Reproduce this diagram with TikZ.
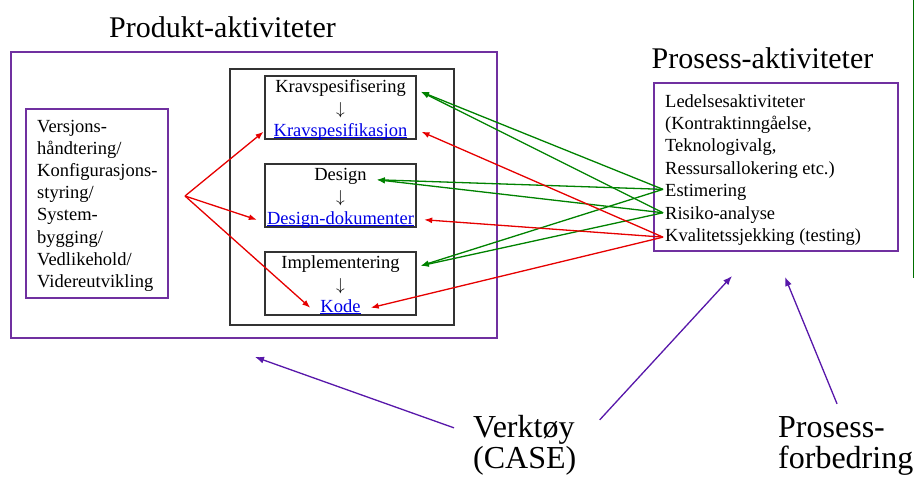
\documentclass[tikz,border=0pt]{standalone}
\usepackage{fontspec}
\setmainfont{Liberation Serif}
\usetikzlibrary{%
  positioning
 ,arrows.meta
}
\definecolor{frmpurple}{RGB}{112,48,160}
\definecolor{arrpurple}{RGB}{88,24,170}
\definecolor{arrred}{RGB}{230,0,0}
\definecolor{arrgreen}{RGB}{0,130,0}
\definecolor{linkblue}{RGB}{0,0,230}
\definecolor{edgegreen}{RGB}{0,110,0}
\newcommand{\lnk}[1]{\textcolor{linkblue}{\underline{\smash{#1}}}}
\tikzstyle{frm}=[draw=frmpurple,line width=1.5pt,inner sep=0pt]
\tikzstyle{bx}=[draw=black!80,line width=1.3pt,inner sep=0pt]
\tikzstyle{ln}=[font=\fontsize{18.5}{22.2}\selectfont,text height=13pt,text depth=4.5pt,inner ysep=0pt,inner xsep=2pt]
\tikzstyle{inb}=[ln,inner xsep=10pt,on grid]
\tikzstyle{ttl}=[font=\fontsize{30}{36}\selectfont,inner sep=0pt,anchor=base]
\tikzstyle{big}=[font=\fontsize{32}{38}\selectfont,inner sep=0pt,anchor=base west]
\tikzstyle{ra}=[-{Latex[length=8pt,width=6pt]},draw=arrred,fill=arrred,line width=1.3pt]
\tikzstyle{ga}=[-{Latex[length=8pt,width=6pt]},draw=arrgreen,fill=arrgreen,line width=1.3pt]
\tikzstyle{pa}=[-{Latex[length=9pt,width=7pt]},draw=arrpurple,fill=arrpurple,line width=1.3pt]

\begin{document}
\begin{tikzpicture}[x=1pt,y=-1pt]
  \useasboundingbox (0,0) rectangle (914,482);
  % frames
  \node[frm,minimum width=486,minimum height=286] (prod) at (254,195) {};
  \node[frm,minimum width=142,minimum height=189] (vers) at (97,203.5) {};
  \node[bx,minimum width=224,minimum height=256] (dev) at (342,197) {};
  \node[bx,minimum width=151,minimum height=63] (kbox) at (340.5,107.5) {};
  \node[bx,minimum width=151,minimum height=63] (dbox) at (340.5,195.5) {};
  \node[bx,minimum width=151,minimum height=63] (ibox) at (340.5,283.5) {};
  \node[frm,minimum width=244,minimum height=168] (prosbox) at (776,167) {};
  \draw[edgegreen,line width=1pt] (913,0) -- (913,278);
  % titles
  \node[ttl] (prodttl) at (222.5,37) {Produkt-aktiviteter};
  \node[ttl] (prosttl) at (762.5,68) {Prosess-aktiviteter};
  % left box
  \node[ln,anchor=west] (v1) at (35,127.75) {Versjons-};
  \node[ln,below=22.2pt of v1.west,anchor=west] (v2) {håndtering/};
  \node[ln,below=22.2pt of v2.west,anchor=west] (v3) {Konfigurasjons-};
  \node[ln,below=22.2pt of v3.west,anchor=west] (v4) {styring/};
  \node[ln,below=22.2pt of v4.west,anchor=west] (v5) {System-};
  \node[ln,below=22.2pt of v5.west,anchor=west] (v6) {bygging/};
  \node[ln,below=22.2pt of v6.west,anchor=west] (v7) {Vedlikehold/};
  \node[ln,below=22.2pt of v7.west,anchor=west] (v8) {Videreutvikling};
  % phases
  \node[inb] (krav) at (340.5,87.75) {Kravspesifisering};
  \node[inb,below=22pt of krav] (kravdn) {$\downarrow$};
  \node[inb,below=22pt of kravdn] (kspec) {\lnk{Kravspesifikasjon}};
  \node[inb] (design) at (340.5,175.75) {Design};
  \node[inb,below=22pt of design] (designdn) {$\downarrow$};
  \node[inb,below=22pt of designdn] (ddok) {\lnk{Design-dokumenter}};
  \node[inb] (impl) at (340.5,263.75) {Implementering};
  \node[inb,below=22pt of impl] (impldn) {$\downarrow$};
  \node[inb,below=22pt of impldn] (kode) {\lnk{Kode}};
  % process activities
  \node[ln,anchor=west] (led) at (663,102.75) {Ledelsesaktiviteter};
  \node[ln,below=22.4pt of led.west,anchor=west] (kon) {(Kontraktinngåelse,};
  \node[ln,below=22.4pt of kon.west,anchor=west] (tek) {Teknologivalg,};
  \node[ln,below=22.4pt of tek.west,anchor=west] (res) {Ressursallokering etc.)};
  \node[ln,below=22.4pt of res.west,anchor=west] (est) {Estimering};
  \node[ln,below=22.4pt of est.west,anchor=west] (risk) {Risiko-analyse};
  \node[ln,below=22.4pt of risk.west,anchor=west] (kval) {Kvalitetssjekking (testing)};
  % bottom labels
  \node[big] (tool) at (473,437) {Verktøy};
  \node[big] (toolb) at (473,468) {(CASE)};
  \node[big] (proc) at (778,437) {Prosess-};
  \node[big] (procb) at (778,468) {forbedring};
  \coordinate (fork) at (185,196);
  \coordinate (prodtip) at (255,357);
  \coordinate (prostip) at (732,276);
  \coordinate (forbtip) at (785,277);
  % connectors
  \draw[ra] (fork) -- (kspec.west);
  \draw[ra] (fork) -- (ddok.west);
  \draw[ra] (fork) -- (kode.west);
  \draw[ga] ([yshift=3pt]est.west) -- ([xshift=5pt,yshift=-4pt]krav.east);
  \draw[ga] ([yshift=3pt]est.west) -- ([yshift=-4pt]design.east);
  \draw[ga] ([yshift=3pt]est.west) -- ([xshift=11pt,yshift=-2pt]impl.east);
  \draw[ga] ([yshift=2pt]risk.west) -- ([xshift=5pt,yshift=-4pt]krav.east);
  \draw[ga] ([yshift=2pt]risk.west) -- ([yshift=-4pt]design.east);
  \draw[ga] ([yshift=2pt]risk.west) -- ([xshift=11pt,yshift=-2pt]impl.east);
  \draw[ra] (kval.west) -- ([xshift=4pt]kspec.east);
  \draw[ra] (kval.west) -- (ddok.east);
  \draw[ra] (kval.west) -- (kode.east);
  \draw[pa] ([xshift=-19pt,yshift=1.5pt]tool.west) -- (prodtip);
  \draw[pa] ([xshift=25pt,yshift=9.5pt]tool.east) -- (prostip);
  \draw[pa] ([xshift=5.5pt,yshift=12pt]proc.north) -- (forbtip);
\end{tikzpicture}
\end{document}
